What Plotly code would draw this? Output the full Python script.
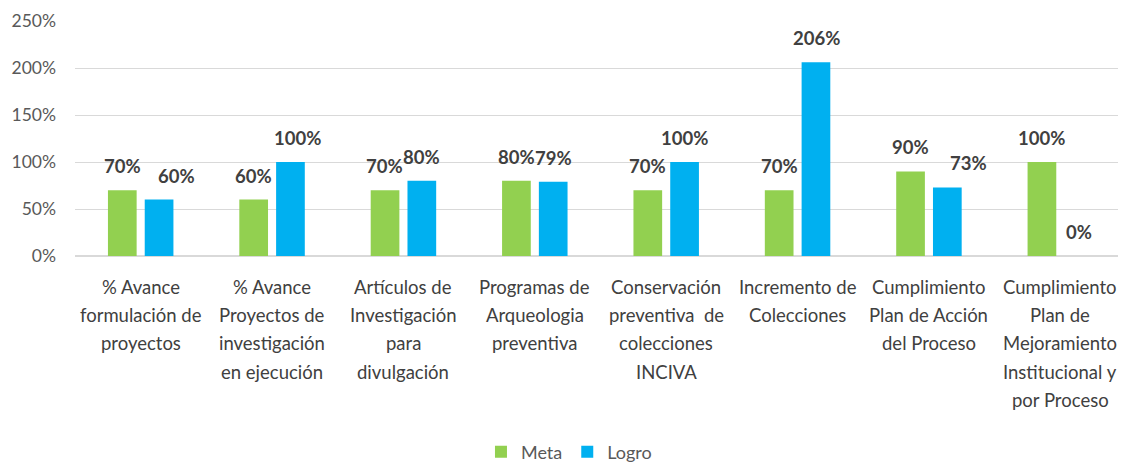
import plotly.graph_objects as go

categories = [
    "% Avance formulación de proyectos",
    "% Avance Proyectos de investigación en ejecución",
    "Artículos de Investigación para divulgación",
    "Programas de Arqueologia preventiva",
    "Conservación preventiva de colecciones INCIVA",
    "Incremento de Colecciones",
    "Cumplimiento Plan de Acción del Proceso",
    "Cumplimiento Plan de Mejoramiento Institucional y por Proceso",
]
# wrapped category labels as shown under the axis
category_lines = [
    ["% Avance", "formulación de", "proyectos"],
    ["% Avance", "Proyectos de", "investigación", "en ejecución"],
    ["Artículos de", "Investigación", "para", "divulgación"],
    ["Programas de", "Arqueologia", "preventiva"],
    ["Conservación", "preventiva  de", "colecciones", "INCIVA"],
    ["Incremento de", "Colecciones"],
    ["Cumplimiento", "Plan de Acción", "del Proceso"],
    ["Cumplimiento", "Plan de", "Mejoramiento", "Institucional y", "por Proceso"],
]
meta = [0.70, 0.60, 0.70, 0.80, 0.70, 0.70, 0.90, 1.00]
logro = [0.60, 1.00, 0.80, 0.79, 1.00, 2.06, 0.73, 0.00]
meta_labels = ["70%", "60%", "70%", "80%", "70%", "70%", "90%", "100%"]
logro_labels = ["60%", "100%", "80%", "79%", "100%", "206%", "73%", "0%"]
y_ticks = [0, 0.5, 1.0, 1.5, 2.0, 2.5]

# label horizontal nudges (px) for the Logro labels, as in the reference
logro_xshift = [17, 7, 0, 0, 0, 0, 21, 0]

GREEN = "#92D050"
BLUE = "#00B0F0"
FONT = "Lato, 'Open Sans', sans-serif"

# the page body has an 8px default margin; size the figure so it fills the window
PAGE_OFFSET = 8

fig = go.Figure()
fig.add_trace(go.Bar(x=categories, y=meta, name="Meta", marker=dict(color=GREEN, line=dict(width=0))))
fig.add_trace(go.Bar(x=categories, y=logro, name="Logro", marker=dict(color=BLUE, line=dict(width=0))))

annotations = []
for i, c in enumerate(categories):
    annotations.append(dict(x=c, y=meta[i], xref="x", yref="y", text=meta_labels[i], showarrow=False,
                            xshift=-18.5, yshift=24, yanchor="middle",
                            font=dict(family=FONT, size=18.5, color="#404040", weight="bold")))
    annotations.append(dict(x=c, y=logro[i], xref="x", yref="y", text=logro_labels[i], showarrow=False,
                            xshift=18.5 + logro_xshift[i], yshift=24, yanchor="middle",
                            font=dict(family=FONT, size=18.5, color="#404040", weight="bold")))
    for j, line in enumerate(category_lines[i]):
        annotations.append(dict(x=c, y=0, xref="x", yref="paper", text=line, showarrow=False,
                                yshift=-31 - 28.2 * j, yanchor="middle", xanchor="center",
                                font=dict(family=FONT, size=18.5, color="#404040")))

fig.update_layout(
    width=1126 - PAGE_OFFSET, height=462 - PAGE_OFFSET,
    margin=dict(l=75 - PAGE_OFFSET, r=0, t=21 - PAGE_OFFSET, b=206, autoexpand=False),
    paper_bgcolor="white", plot_bgcolor="white",
    barmode="group", bargap=0.44, bargroupgap=0.22,
    font=dict(family=FONT, color="#595959"),
    showlegend=True,
    legend=dict(orientation="h", x=0.47, xanchor="center", y=-0.834, yanchor="middle",
                font=dict(family=FONT, size=18, color="#595959"), itemwidth=30, traceorder="normal"),
    annotations=annotations,
)
fig.update_yaxes(range=[0, 2.5], tickvals=y_ticks, tickformat=".0%", showgrid=True,
                 gridcolor="#D9D9D9", gridwidth=1, zeroline=True, zerolinecolor="#D9D9D9",
                 showline=False, ticks="", ticklabelstandoff=18, automargin=False,
                 tickfont=dict(family=FONT, size=17.5, color="#595959"), fixedrange=True)
fig.update_xaxes(showgrid=False, showline=False, ticks="", showticklabels=False,
                 automargin=False, fixedrange=True)

fig.write_html("out.html")
